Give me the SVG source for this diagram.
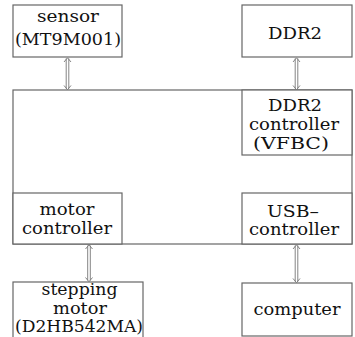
<svg xmlns="http://www.w3.org/2000/svg" width="355" height="337" viewBox="0 0 355 337">
<style>
.box{fill:#fff;stroke:#666;stroke-width:1.2}
.t{font-family:"DejaVu Serif","Liberation Serif",serif;font-size:17px;fill:#111;text-anchor:middle}
.s{font-size:16px}
.arr{fill:none;stroke:#777;stroke-width:0.9}
</style>
<rect width="355" height="337" fill="#fff"/>
<g id="main">
<rect class="box" x="13" y="90" width="339" height="154"/>
</g>
<g id="sensor">
<rect class="box" x="13" y="5" width="109" height="52"/>
<text class="t" x="68" y="21.5" textLength="62" lengthAdjust="spacingAndGlyphs">sensor</text>
<text class="t" x="68" y="45" textLength="106" lengthAdjust="spacingAndGlyphs">(MT9M001)</text>
</g>
<g id="ddr2">
<rect class="box" x="242" y="5" width="110" height="52"/>
<text class="t" x="295" y="38.5" textLength="54" lengthAdjust="spacingAndGlyphs">DDR2</text>
</g>
<g id="vfbc">
<rect class="box" x="242" y="90" width="110" height="65"/>
<text class="t s" x="295" y="110.5" textLength="54" lengthAdjust="spacingAndGlyphs">DDR2</text>
<text class="t s" x="294" y="129.5" textLength="90" lengthAdjust="spacingAndGlyphs">controller</text>
<text class="t s" x="291" y="148.5" textLength="76" lengthAdjust="spacingAndGlyphs">(VFBC)</text>
</g>
<g id="motor-controller">
<rect class="box" x="13" y="193" width="109" height="51"/>
<text class="t" x="67" y="215" textLength="55" lengthAdjust="spacingAndGlyphs">motor</text>
<text class="t" x="67" y="233.5" textLength="90" lengthAdjust="spacingAndGlyphs">controller</text>
</g>
<g id="usb-controller">
<rect class="box" x="242" y="193" width="110" height="51"/>
<text class="t" x="293" y="216.5" textLength="52" lengthAdjust="spacingAndGlyphs">USB–</text>
<text class="t" x="294" y="235" textLength="90" lengthAdjust="spacingAndGlyphs">controller</text>
</g>
<g id="stepping-motor">
<rect class="box" x="13" y="282" width="130" height="60"/>
<text class="t" x="79.5" y="295" textLength="76" lengthAdjust="spacingAndGlyphs">stepping</text>
<text class="t" x="80" y="313.5" textLength="54" lengthAdjust="spacingAndGlyphs">motor</text>
<text class="t" x="79" y="331.5" textLength="128" lengthAdjust="spacingAndGlyphs">(D2HB542MA)</text>
</g>
<g id="computer">
<rect class="box" x="242" y="283" width="110" height="53"/>
<text class="t" x="297" y="315" textLength="87" lengthAdjust="spacingAndGlyphs">computer</text>
</g>
<g id="connectors">
<path class="arr" d="M66.2,58.5V88.5M68.8,58.5V88.5M64,62L67.5,57.8L71,62M64,85.5L67.5,89.7L71,85.5"/>
<path class="arr" d="M295.2,58.5V88.5M297.8,58.5V88.5M293,62L296.5,57.8L300,62M293,85.5L296.5,89.7L300,85.5"/>
<path class="arr" d="M87.7,245.5V280.5M90.3,245.5V280.5M85.5,249L89,244.8L92.5,249M85.5,277.5L89,281.7L92.5,277.5"/>
<path class="arr" d="M295.2,245.5V281.5M297.8,245.5V281.5M293,249L296.5,244.8L300,249M293,278.5L296.5,282.7L300,278.5"/>
</g>
</svg>
